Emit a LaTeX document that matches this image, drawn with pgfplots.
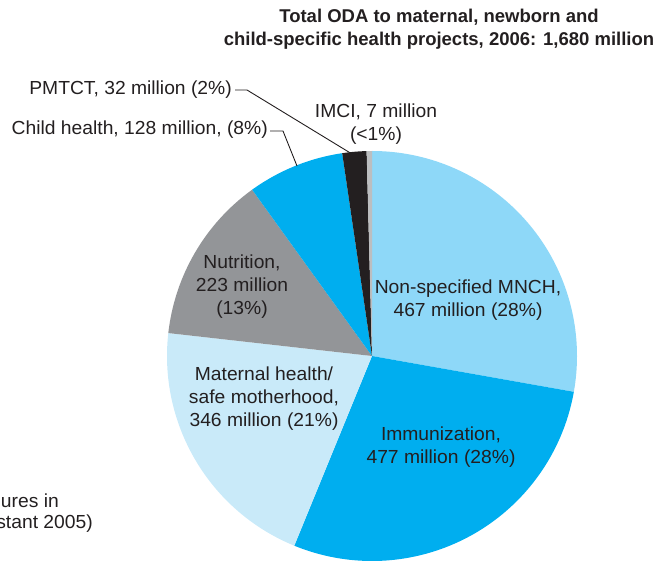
\documentclass[border=0pt]{standalone}
\usepackage{pgfplots}
\pgfplotsset{compat=1.18}
\usepackage{pgfplotstable}
\usepackage{fontspec}
\setmainfont{Liberation Sans}[FakeStretch=1.02]
\newfontfamily\titlefont{Liberation Sans}
\definecolor{txt}{HTML}{231F20}
\definecolor{cA}{HTML}{8ED8F8}
\definecolor{cB}{HTML}{00AEEF}
\definecolor{cC}{HTML}{C9EAF9}
\definecolor{cD}{HTML}{939598}
\definecolor{cE}{HTML}{00AEEF}
\definecolor{cF}{HTML}{231F20}
\definecolor{cG}{HTML}{BCBEC0}
\pgfplotstableread{
name value color
NonSpecifiedMNCH 467 cA
Immunization 477 cB
MaternalHealth 346 cC
Nutrition 223 cD
ChildHealth 128 cE
PMTCT 32 cF
IMCI 7 cG
}\piedata
\tikzset{lbl/.style={text=txt,inner sep=0pt,font=\fontsize{18.9bp}{23bp}\selectfont}}
\begin{document}
\begin{tikzpicture}
\begin{axis}[x=1bp,y=1bp,xmin=0,xmax=656,ymin=0,ymax=563,y dir=reverse,hide axis,clip=false]
\def\cum{0}
\pgfplotsforeachungrouped \i in {0,...,6}{%
  \pgfplotstablegetelem{\i}{value}\of\piedata
  \pgfmathsetmacro\nxt{\cum+\pgfplotsretval}%
  \pgfmathsetmacro\angA{90-(\cum/1680)*360}%
  \pgfmathsetmacro\angB{90-(\nxt/1680)*360}%
  \pgfplotstablegetelem{\i}{color}\of\piedata
  \edef\tmp{\noexpand\fill[\pgfplotsretval] (axis cs:372,356) -- ++(\angA:205bp) arc[start angle=\angA,end angle=\angB,radius=205bp] -- cycle;}%
  \tmp
  \global\let\cum\nxt
}
\draw[txt,line width=0.9bp] (axis cs:235,90) -- (axis cs:247,90) -- (axis cs:352,154);
\draw[txt,line width=0.9bp] (axis cs:270,131) -- (axis cs:283,131) -- (axis cs:297,166);
\node[lbl,align=center,font=\titlefont\bfseries\fontsize{18.5bp}{23bp}\selectfont] at (axis cs:439,29) {Total ODA to maternal, newborn and\\child-specific health projects, 2006: 1,680 million};
\node[lbl,anchor=east] at (axis cs:232,90) {PMTCT, 32 million (2\%)};
\node[lbl,anchor=east] at (axis cs:268,130) {Child health, 128 million, (8\%)};
\node[lbl,align=center] at (axis cs:376,124) {IMCI, 7 million\\(<1\%)};
\node[lbl,align=center] at (axis cs:468,300) {Non-specified MNCH,\\467 million (28\%)};
\node[lbl,align=center] at (axis cs:242,287) {Nutrition,\\223 million\\(13\%)};
\node[lbl,align=center] at (axis cs:264,399) {Maternal health/\\safe motherhood,\\346 million (21\%)};
\node[lbl,align=center] at (axis cs:441,447) {Immunization,\\477 million (28\%)};
\node[lbl,anchor=east] at (axis cs:59,501) {ures in};
\node[lbl,anchor=east] at (axis cs:93,524) {stant 2005)};
\end{axis}
\pgfresetboundingbox
\path (current axis.south west) rectangle (current axis.north east);
\end{tikzpicture}
\end{document}
